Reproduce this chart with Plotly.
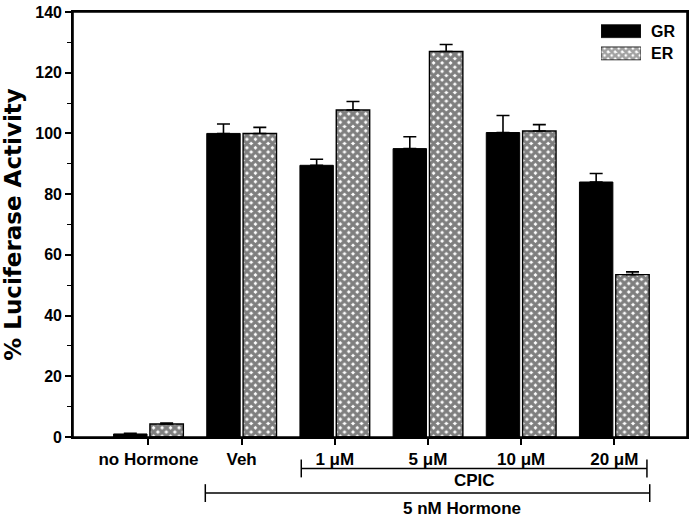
import plotly.graph_objects as go

categories = ["no Hormone", "Veh", "1 μM", "5 μM", "10 μM", "20 μM"]
gr_values = [1.0, 100.0, 89.5, 95.0, 100.3, 84.0]
gr_errors = [0.2, 3.1, 2.0, 3.9, 5.6, 2.8]
er_values = [4.3, 100.0, 107.7, 127.0, 100.8, 53.5]
er_errors = [0.3, 2.0, 2.8, 2.3, 2.1, 0.9]
legend_keys = ["ER", "GR"]

FONT = "Arial, Liberation Sans, sans-serif"
PATTERN = dict(shape="x", fgcolor="black", bgcolor="white", size=6, solidity=0.78, fillmode="overlay")

fig = go.Figure()
fig.add_trace(go.Bar(
    name="GR", x=categories, y=gr_values, showlegend=False,
    marker=dict(color="black", line=dict(color="black", width=1)),
    error_y=dict(type="data", array=gr_errors, symmetric=False, arrayminus=[0]*6,
                 color="black", thickness=1.6, width=6.5),
))
fig.add_trace(go.Bar(
    name="ER", x=categories, y=er_values, showlegend=False,
    marker=dict(color="white", line=dict(color="black", width=1.4), pattern=PATTERN),
    error_y=dict(type="data", array=er_errors, symmetric=False, arrayminus=[0]*6,
                 color="black", thickness=1.6, width=6.5),
))

# legend swatches (inset axes)
fig.add_trace(go.Bar(
    y=legend_keys, x=[1, 1], orientation="h", xaxis="x2", yaxis="y2", width=0.58,
    showlegend=False, hoverinfo="skip",
    marker=dict(color=["white", "black"], line=dict(color="black", width=0.8),
                pattern=dict(shape=["x", ""], fgcolor="black", bgcolor=["white", "black"],
                             size=5, solidity=0.78, fillmode="overlay")),
))

shapes = [dict(type="rect", xref="paper", yref="paper", x0=0, x1=1, y0=0, y1=1,
               line=dict(color="black", width=1.6), fillcolor="rgba(0,0,0,0)", layer="above")]
def bracket(x0, x1, y, h):
    shapes.append(dict(type="line", xref="x", yref="paper", x0=x0, x1=x1, y0=y, y1=y,
                       line=dict(color="black", width=1.5)))
    for xx in (x0, x1):
        shapes.append(dict(type="line", xref="x", yref="paper", x0=xx, x1=xx,
                           y0=y + h, y1=y - h, line=dict(color="black", width=1.5)))

bracket(1.64, 5.35, -0.074, 0.021)
bracket(0.61, 5.38, -0.132, 0.021)

BOLD17 = dict(family=FONT, size=17, color="black", weight="bold")
BOLD16 = dict(family=FONT, size=16, color="black", weight="bold")
annotations = [
    dict(text="CPIC", x=3.5, y=-0.102, xref="x", yref="paper", showarrow=False,
         font=BOLD17, yanchor="middle"),
    dict(text="5 nM Hormone", x=3.36, y=-0.168, xref="x", yref="paper", showarrow=False,
         font=BOLD17, yanchor="middle"),
    dict(text="GR", x=0.938, y=0.954, xref="paper", yref="paper", showarrow=False,
         font=BOLD16, xanchor="left", yanchor="middle"),
    dict(text="ER", x=0.938, y=0.9025, xref="paper", yref="paper", showarrow=False,
         font=BOLD16, xanchor="left", yanchor="middle"),
]

fig.update_layout(
    width=693, height=517,
    margin=dict(l=73, r=4, t=6, b=80),
    paper_bgcolor="white", plot_bgcolor="white",
    barmode="group", bargap=0.22, bargroupgap=0.08,
    font=dict(family=FONT, color="black"),
    shapes=shapes, annotations=annotations,
    showlegend=False,
    xaxis=dict(
        type="category", range=[-0.81, 5.78],
        showline=True, linecolor="black", linewidth=1.6, mirror=True,
        ticks="outside", ticklen=6, tickwidth=1.5, tickcolor="black",
        tickfont=BOLD17, showgrid=False,
    ),
    yaxis=dict(
        range=[0, 140], tickvals=[0, 20, 40, 60, 80, 100, 120, 140],
        showline=True, linecolor="black", linewidth=1.6, mirror=True,
        ticks="outside", ticklen=6, tickwidth=1.5, tickcolor="black",
        minor=dict(tickvals=[10, 30, 50, 70, 90, 110, 130], ticks="outside", ticklen=4,
                   tickwidth=1.2, tickcolor="black"),
        tickfont=dict(family=FONT, size=16, color="black", weight="bold"),
        ticklabeloverflow="allow",
        showgrid=False, zeroline=False,
        title=dict(text="% Luciferase Activity",
                   font=dict(family="DejaVu Sans", size=23, color="black", weight="bold"),
                   standoff=11),
    ),
    xaxis2=dict(domain=[0.860, 0.925], anchor="y2", range=[0, 1], visible=False, fixedrange=True),
    yaxis2=dict(domain=[0.8765, 0.981], anchor="x2", type="category", visible=False, fixedrange=True),
)

fig.write_html("out.html", config={"displayModeBar": False},
               post_script="document.body.style.margin='0';")
